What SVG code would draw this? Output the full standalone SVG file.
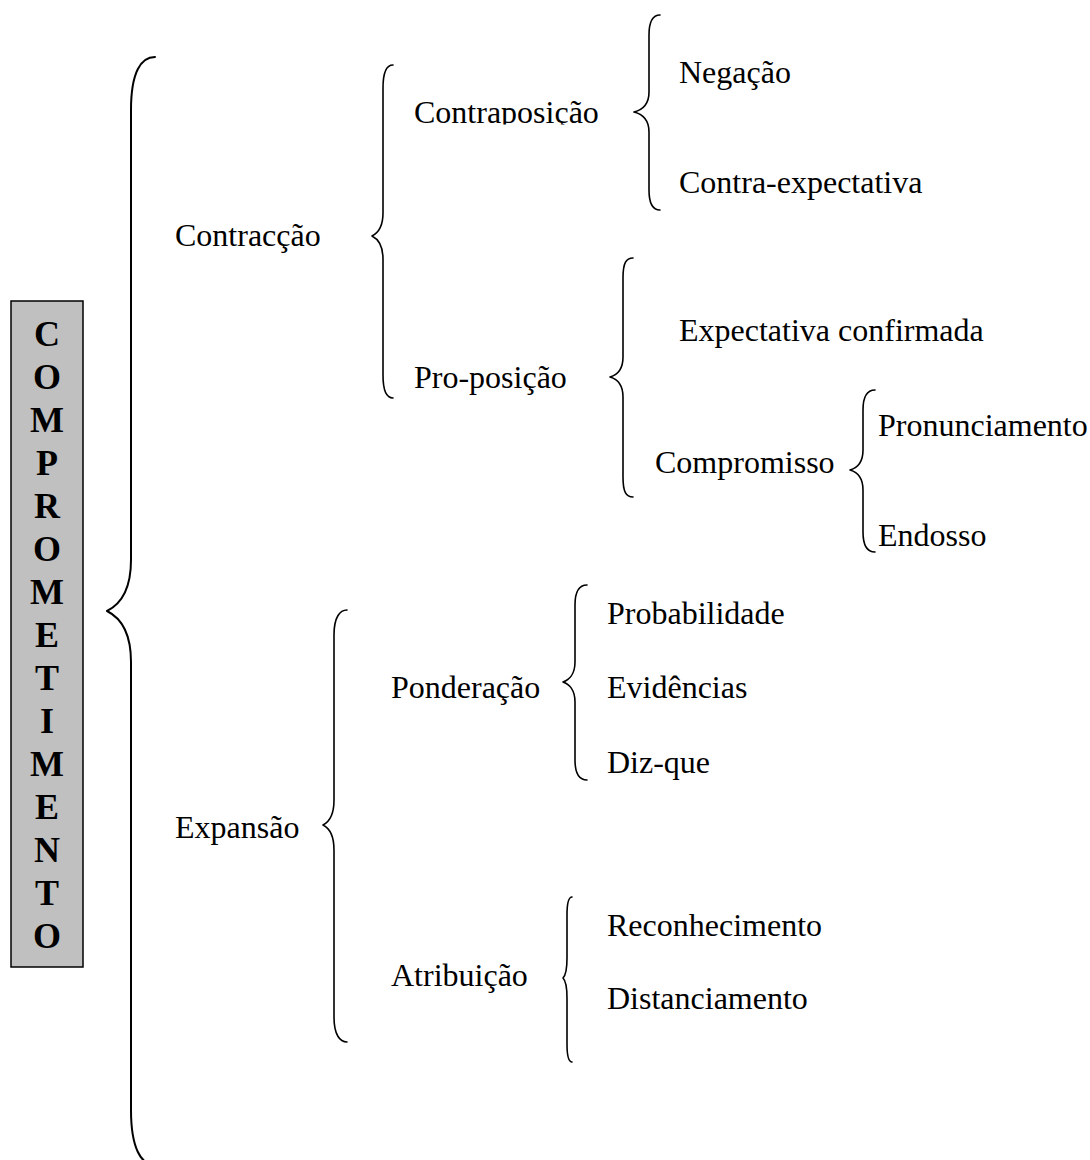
<svg xmlns="http://www.w3.org/2000/svg" width="1090" height="1160" viewBox="0 0 1090 1160">
<style>
.t{font-family:"Liberation Serif","Times New Roman",serif;font-size:32px;fill:#000}
.b{font-family:"Liberation Serif","Times New Roman",serif;font-size:36px;font-weight:bold;fill:#000;text-anchor:middle}
.br{fill:none;stroke:#000;stroke-width:1.6;stroke-linecap:round;stroke-linejoin:round}
</style>
<defs>
<clipPath id="clipCP"><rect x="400" y="80" width="220" height="44.5"/></clipPath>
</defs>
<rect width="1090" height="1160" fill="#fff"/>
<g id="connectors">
<path class="br" style="stroke-width:2" d="M155,57 C141,57 131,72 131,110 L131,560 C131,588 121,604 107,611 C121,618 131,634 131,662 L131,1110 C131,1148 141,1165 155,1165"/>
<path class="br" d="M393,65 C387,65 383,71 383,88 L383,213 C383,227 378,233 372,236 C378,239 383,245 383,259 L383,375 C383,392 387,398 393,398"/>
<path class="br" d="M660,15 C653,15 649,20 649,35 L649,92 C649,104 642,110 634,112 C642,114 649,120 649,132 L649,190 C649,205 653,210 660,210"/>
<path class="br" d="M633,258 C626,258 623,263 623,278 L623,357 C623,369 617,375 610,377 C617,379 623,385 623,397 L623,477 C623,492 626,497 633,497"/>
<path class="br" d="M875,390 C868,390 863,395 863,410 L863,450 C863,462 857,468 850,470 C857,472 863,478 863,490 L863,532 C863,547 868,552 875,552"/>
<path class="br" d="M347,610 C340,610 334,617 334,635 L334,800 C334,814 329,822 323,825 C329,828 334,836 334,850 L334,1017 C334,1035 340,1042 347,1042"/>
<path class="br" d="M587,585 C580,585 575,590 575,605 L575,662 C575,674 569,680 563,682 C569,684 575,690 575,702 L575,760 C575,775 580,780 587,780"/>
<path class="br" d="M572,897 C569,897 567,902 567,915 L567,958 C567,970 565,976 563,978 C565,980 567,986 567,998 L567,1044 C567,1057 569,1062 572,1062"/>
</g>
<g id="comprometimento">
<rect x="11" y="301" width="72" height="666" fill="#c0c0c0" stroke="#000" stroke-width="1.5"/>
<text class="b" x="47" y="346">C</text>
<text class="b" x="47" y="389">O</text>
<text class="b" x="47" y="432">M</text>
<text class="b" x="47" y="475">P</text>
<text class="b" x="47" y="518">R</text>
<text class="b" x="47" y="561">O</text>
<text class="b" x="47" y="604">M</text>
<text class="b" x="47" y="647">E</text>
<text class="b" x="47" y="690">T</text>
<text class="b" x="47" y="733">I</text>
<text class="b" x="47" y="776">M</text>
<text class="b" x="47" y="819">E</text>
<text class="b" x="47" y="862">N</text>
<text class="b" x="47" y="905">T</text>
<text class="b" x="47" y="948">O</text>
</g>
<g id="contraccao"><text class="t" x="175" y="246">Contracção</text></g>
<g id="contraposicao"><text class="t" x="414" y="123" clip-path="url(#clipCP)">Contraposição</text></g>
<g id="negacao"><text class="t" x="679" y="83">Negação</text></g>
<g id="contra-expectativa"><text class="t" x="679" y="193">Contra-expectativa</text></g>
<g id="pro-posicao"><text class="t" x="414" y="388">Pro-posição</text></g>
<g id="expectativa-confirmada"><text class="t" x="679" y="341">Expectativa confirmada</text></g>
<g id="compromisso"><text class="t" x="655" y="473">Compromisso</text></g>
<g id="pronunciamento"><text class="t" x="878" y="436">Pronunciamento</text></g>
<g id="endosso"><text class="t" x="878" y="546">Endosso</text></g>
<g id="expansao"><text class="t" x="175" y="838">Expansão</text></g>
<g id="ponderacao"><text class="t" x="391" y="698">Ponderação</text></g>
<g id="probabilidade"><text class="t" x="607" y="624">Probabilidade</text></g>
<g id="evidencias"><text class="t" x="607" y="698">Evidências</text></g>
<g id="diz-que"><text class="t" x="607" y="773">Diz-que</text></g>
<g id="atribuicao"><text class="t" x="391" y="986">Atribuição</text></g>
<g id="reconhecimento"><text class="t" x="607" y="936">Reconhecimento</text></g>
<g id="distanciamento"><text class="t" x="607" y="1009">Distanciamento</text></g>
</svg>
